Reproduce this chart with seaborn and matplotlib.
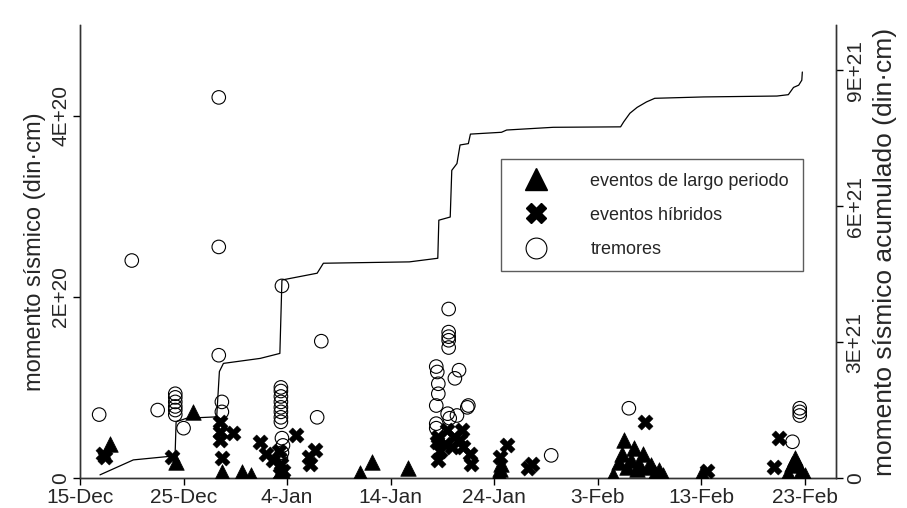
import pandas as pd
import numpy as np
import matplotlib
matplotlib.use("Agg")
import matplotlib.pyplot as plt
import matplotlib.dates as mdates
from matplotlib.lines import Line2D
import seaborn as sns

# fecha de referencia: los valores de dia son dias desde el 15-Dec
inicio = pd.Timestamp("2004-12-15")

# eventos de largo periodo (dia, momento en 1E+20 din·cm)
lp_dia = [2.9, 9.3, 10.9, 13.7, 15.6, 16.5, 19.2, 19.5, 19.7, 27.05, 28.2, 31.7,
          40.5, 40.6, 40.7, 51.5, 52.0, 52.3, 52.5, 52.8, 53.2, 53.5, 53.8, 54.0,
          54.4, 54.8, 55.1, 55.5, 55.9, 56.3, 60.1, 68.4, 68.8, 69.0, 69.3, 69.6, 70.0]
lp_val = [0.38, 0.18, 0.73, 0.07, 0.07, 0.03, 0.04, 0.06, 0.03, 0.05, 0.18, 0.11,
          0.05, 0.10, 0.15, 0.03, 0.18, 0.27, 0.42, 0.12, 0.20, 0.33, 0.10, 0.16,
          0.27, 0.12, 0.14, 0.06, 0.09, 0.03, 0.05, 0.05, 0.16, 0.22, 0.14, 0.08, 0.03]

# eventos hibridos
hib_dia = [2.2, 2.4, 8.9, 13.5, 13.5, 13.5, 13.7, 14.75, 17.4, 18.0, 18.6, 19.2,
           19.4, 19.6, 19.3, 20.9, 22.1, 22.2, 22.7, 34.6, 34.5, 34.6, 35.4, 35.2,
           35.9, 36.1, 36.9, 36.7, 37.0, 37.7, 37.8, 34.8, 40.6, 41.2, 43.3, 43.6,
           54.6, 60.5, 67.5, 67.0]
hib_val = [0.27, 0.23, 0.23, 0.62, 0.51, 0.42, 0.22, 0.50, 0.40, 0.27, 0.20, 0.30,
           0.15, 0.08, 0.04, 0.47, 0.23, 0.16, 0.31, 0.20, 0.40, 0.45, 0.53, 0.38,
           0.34, 0.45, 0.53, 0.42, 0.34, 0.27, 0.16, 0.30, 0.23, 0.36, 0.11, 0.16,
           0.62, 0.08, 0.44, 0.12]

# tremores
tre_dia = [1.85, 5.0, 13.4, 13.4, 13.4, 7.5, 9.2, 9.2, 9.2, 9.2, 9.2, 9.2, 10.0,
           13.7, 13.7, 19.5, 23.3, 22.9, 19.4, 19.4, 19.4, 19.4, 19.4, 19.4, 19.4,
           19.4, 19.5, 19.6, 19.5, 19.4, 35.6, 35.6, 35.6, 35.6, 35.6, 34.4, 34.5,
           36.6, 36.2, 34.6, 34.6, 34.4, 37.5, 37.4, 35.5, 36.4, 35.7, 34.4, 34.4,
           45.5, 53.0, 69.5, 69.5, 69.5, 68.8]
tre_val = [0.70, 2.40, 4.20, 2.55, 1.355, 0.75, 0.93, 0.89, 0.84, 0.79, 0.75, 0.70, 0.55,
           0.84, 0.73, 2.12, 1.51, 0.67, 1.00, 0.96, 0.90, 0.84, 0.78, 0.73, 0.67,
           0.62, 0.44, 0.36, 0.28, 0.22, 1.865, 1.61, 1.56, 1.52, 1.44, 1.23, 1.17,
           1.19, 1.10, 1.04, 0.93, 0.80, 0.80, 0.78, 0.71, 0.69, 0.66, 0.60, 0.55,
           0.25, 0.77, 0.77, 0.73, 0.69, 0.40]

# momento sismico acumulado (dia, 1E+21 din·cm)
acu_dia = [1.93, 5.15, 9.18, 9.28, 10.3, 13.2, 13.46, 13.85, 17.4, 19.3, 19.5, 22.9,
           23.5, 31.8, 34.55, 34.65, 35.75, 35.9, 36.4, 36.7, 37.5, 37.7, 40.7, 41.2,
           45.7, 52.2, 52.5, 53.1, 53.8, 54.7, 55.5, 60.2, 67.3, 68.4, 68.9, 69.4,
           69.7, 69.75]
acu_val = [0.07, 0.40, 0.49, 1.24, 1.32, 1.35, 2.35, 2.53, 2.64, 2.75, 4.37, 4.52,
           4.74, 4.77, 4.85, 5.69, 5.76, 6.79, 6.94, 7.35, 7.38, 7.59, 7.63, 7.68,
           7.74, 7.75, 7.86, 8.05, 8.18, 8.30, 8.38, 8.41, 8.43, 8.46, 8.62, 8.67,
           8.78, 8.96]


def a_fecha(dias):
    return inicio + pd.to_timedelta(np.array(dias), unit="D")


lp = pd.DataFrame({"fecha": a_fecha(lp_dia), "momento": np.array(lp_val) * 1e20})
hib = pd.DataFrame({"fecha": a_fecha(hib_dia), "momento": np.array(hib_val) * 1e20})
tre = pd.DataFrame({"fecha": a_fecha(tre_dia), "momento": np.array(tre_val) * 1e20})
acu = pd.DataFrame({"fecha": a_fecha(acu_dia), "momento": np.array(acu_val) * 1e21})

sns.set_theme(style="white")
plt.rcParams["font.family"] = ["Liberation Sans", "DejaVu Sans"]

fig = plt.figure(figsize=(9.07, 5.08), dpi=100)
ax = fig.add_axes([0.0882, 0.059, 0.8335, 0.892])
ax2 = ax.twinx()

sns.scatterplot(data=tre, x="fecha", y="momento", ax=ax, marker="o", s=95,
                facecolor="none", edgecolor="black", linewidth=0.8, zorder=3)
sns.scatterplot(data=lp, x="fecha", y="momento", ax=ax, marker="^", s=125,
                color="black", edgecolor="black", linewidth=0.5, zorder=4)
sns.scatterplot(data=hib, x="fecha", y="momento", ax=ax, marker="X", s=120,
                color="black", edgecolor="black", linewidth=0.3, zorder=5)
sns.lineplot(data=acu, x="fecha", y="momento", ax=ax2, color="black", linewidth=0.9)

ax.set_xlim(inicio, inicio + pd.Timedelta(days=73))
ax.set_ylim(0, 5e20)
ax2.set_ylim(0, 1e22)

ax.set_xticks(pd.date_range(inicio, periods=8, freq="10D"))
ax.xaxis.set_major_formatter(mdates.DateFormatter("%-d-%b"))

ax.set_yticks([0, 2e20, 4e20])
ax.set_yticklabels(["0", "2E+20", "4E+20"], rotation=90, va="center")
ax2.set_yticks([0, 3e21, 6e21, 9e21])
ax2.set_yticklabels(["0", "3E+21", "6E+21", "9E+21"], rotation=90, va="center")

ax.set_xlabel("")
ax.set_ylabel("momento sísmico (din·cm)", fontsize=17, labelpad=4)
ax2.set_ylabel("momento sísmico acumulado (din·cm)", fontsize=19, labelpad=6)

for a in (ax, ax2):
    a.spines["top"].set_visible(False)
    for s in ("left", "right", "bottom"):
        a.spines[s].set_color("#333333")
        a.spines[s].set_linewidth(1.0)
    a.tick_params(direction="out", length=5, width=1, color="black",
                  labelsize=15, pad=2)
ax.tick_params(axis="x", bottom=True)
ax.tick_params(axis="y", left=True)
ax2.tick_params(axis="y", right=True)
ax.set_zorder(ax2.get_zorder() + 1)
ax.patch.set_visible(False)

handles = [
    Line2D([], [], marker="^", color="black", linestyle="none", markersize=16),
    Line2D([], [], marker="X", color="black", linestyle="none", markersize=15),
    Line2D([], [], marker="o", markerfacecolor="none", markeredgecolor="black",
           markeredgewidth=0.8, linestyle="none", markersize=15),
]
labels = ["eventos de largo periodo", "eventos híbridos", "tremores"]
leg = ax.legend(handles, labels, loc="upper left", bbox_to_anchor=(0.557, 0.704),
                borderaxespad=0, frameon=True, fancybox=False, fontsize=13,
                handletextpad=1.8, labelspacing=0.95, borderpad=0.75,
                handlelength=2.4)
leg.get_frame().set_edgecolor("#333333")
leg.get_frame().set_linewidth(1.0)

fig.savefig("out.png", dpi=100)
